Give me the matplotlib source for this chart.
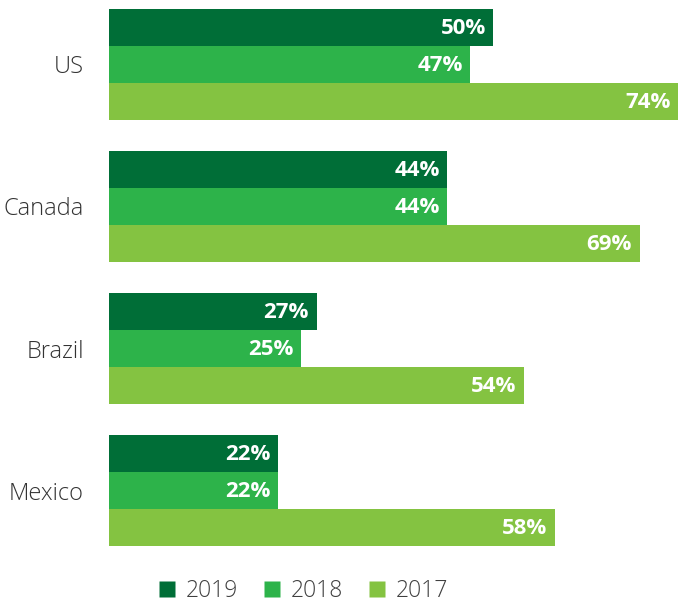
import matplotlib
matplotlib.use('Agg')
import matplotlib.pyplot as plt
import numpy as np
from matplotlib.lines import Line2D

plt.rcParams['font.family'] = ['Open Sans', 'DejaVu Sans']

countries = ['US', 'Canada', 'Brazil', 'Mexico']
years = ['2019', '2018', '2017']
v2019 = [50, 44, 27, 22]
v2018 = [47, 44, 25, 22]
v2017 = [74, 69, 54, 58]
colors = ['#006e37', '#2db34a', '#84c341']

fig = plt.figure(figsize=(6.78, 6.02), dpi=100)
ax = fig.add_axes([109 / 678, 56 / 602, 569 / 678, 537 / 602])

gap = 3.84
centers = np.arange(len(countries)) * gap
for k, (vals, col) in enumerate(zip([v2019, v2018, v2017], colors)):
    ys = centers + (k - 1)
    ax.barh(ys, vals, height=1.0, color=col, edgecolor='none')
    for y, v in zip(ys, vals):
        ax.text(v - 1.0, y + 0.03, f'{v}%', ha='right', va='center', color='white',
                fontsize=16, fontweight='bold')

ax.set_xlim(0, 74)
ax.set_ylim(centers[-1] + 1.5, -1.5)
ax.set_yticks(centers)
ax.set_yticklabels(countries, fontsize=17, color='#333333', fontweight='light')
ax.tick_params(axis='y', length=0, pad=18)
ax.set_xticks([])
for s in ax.spines.values():
    s.set_visible(False)

handles = [Line2D([], [], marker='s', linestyle='none', markersize=11.5,
                  markerfacecolor=c, markeredgecolor='none') for c in colors]
leg = fig.legend(handles, years, loc='center', bbox_to_anchor=(302 / 678, 11 / 602),
                 ncol=3, frameon=False, handletextpad=0.3, handlelength=1.0,
                 columnspacing=1.0, labelcolor='#404040',
                 prop={'size': 16.5, 'weight': 'light'})

fig.savefig('out.png', dpi=100)
